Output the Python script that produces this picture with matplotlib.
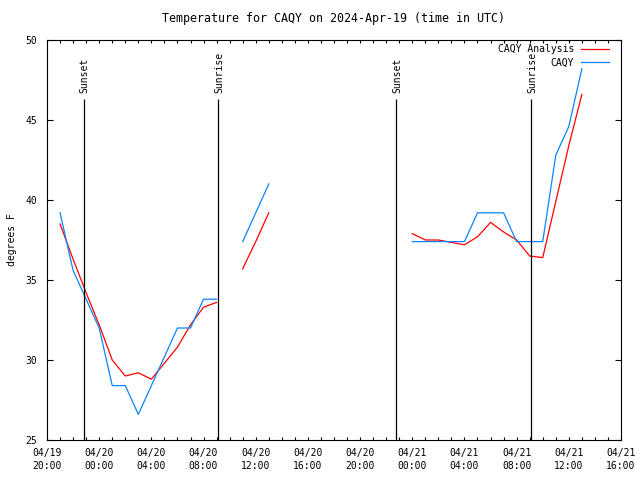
import pandas as pd
import numpy as np
import matplotlib
matplotlib.use("Agg")
import matplotlib.pyplot as plt
import matplotlib.dates as mdates

# =========================
# Data
# =========================
nan = np.nan
times = pd.date_range("2024-04-19 21:00", periods=41, freq="h")

# CAQY observations (deg F), hourly from 04/19 21:00
caqy = [39.2, 35.6, 33.8, 32.0, 28.4, 28.4, 26.6, 28.4, 30.2, 32.0,
        32.0, 33.8, 33.8, nan, 37.4, 39.2, 41.0, nan, nan, nan,
        nan, nan, nan, nan, nan, nan, nan, 37.4, 37.4, 37.4,
        37.4, 37.4, 39.2, 39.2, 39.2, 37.4, 37.4, 37.4, 42.8, 44.6,
        48.2]

# CAQY analysis (deg F)
analysis = [38.5, 36.3, 34.2, 32.2, 30.0, 29.0, 29.2, 28.8, 29.8, 30.8,
            32.2, 33.3, 33.6, nan, 35.7, 37.4, 39.2, nan, nan, nan,
            nan, nan, nan, nan, nan, nan, nan, 37.9, 37.5, 37.5,
            37.35, 37.2, 37.7, 38.6, 38.0, 37.5, 36.5, 36.4, 39.9, 43.4,
            46.6]

sun_events = ["Sunset", "Sunrise", "Sunset", "Sunrise"]
sun_times = pd.to_datetime(["2024-04-19 22:48", "2024-04-20 09:08",
                            "2024-04-20 22:46", "2024-04-21 09:06"])

# =========================
# Plot
# =========================
plt.rcParams["font.family"] = ["DejaVu Sans Mono"]
plt.rcParams["font.size"] = 7

fig = plt.figure(figsize=(6.4, 4.8), dpi=100)
ax = fig.add_axes([47 / 640, 40 / 480, 574 / 640, 400 / 480])

ax.plot(times, analysis, color="#ff0000", lw=0.9, label="CAQY Analysis")
ax.plot(times, caqy, color="#0a84ff", lw=0.9, label="CAQY")

ax.vlines(sun_times, 25, 46.3, color="black", lw=0.9)
for t, name in zip(sun_times, sun_events):
    ax.text(t + pd.Timedelta(minutes=6), 46.7, name, rotation=90,
            ha="center", va="bottom")

ax.set_xlim(pd.Timestamp("2024-04-19 20:00"), pd.Timestamp("2024-04-21 16:00"))
ax.set_ylim(25, 50)
ax.set_yticks(range(25, 51, 5))

ax.xaxis.set_major_locator(mdates.HourLocator(byhour=range(0, 24, 4)))
ax.xaxis.set_minor_locator(mdates.HourLocator())
ax.xaxis.set_major_formatter(mdates.DateFormatter("%m/%d\n%H:%M"))
for lab in ax.get_xticklabels():
    lab.set_linespacing(1.35)

ax.tick_params(axis="both", which="both", direction="in", top=True, right=True,
               width=0.8)
ax.tick_params(axis="x", which="major", length=2.5, pad=6)
ax.tick_params(axis="x", which="minor", length=2.5)
ax.tick_params(axis="y", which="major", length=4, pad=7)
for s in ax.spines.values():
    s.set_linewidth(0.8)

ax.set_title("Temperature for CAQY on 2024-Apr-19 (time in UTC)", pad=13)
ax.set_ylabel("degrees F")
ax.yaxis.set_label_coords(-0.052, 0.5)

ax.legend(loc="upper right", bbox_to_anchor=(0.979, 0.99), frameon=False,
          markerfirst=False, borderpad=0, borderaxespad=0,
          handlelength=2.9, handletextpad=0.7, labelspacing=0.35)

fig.savefig("out.png", dpi=100)
